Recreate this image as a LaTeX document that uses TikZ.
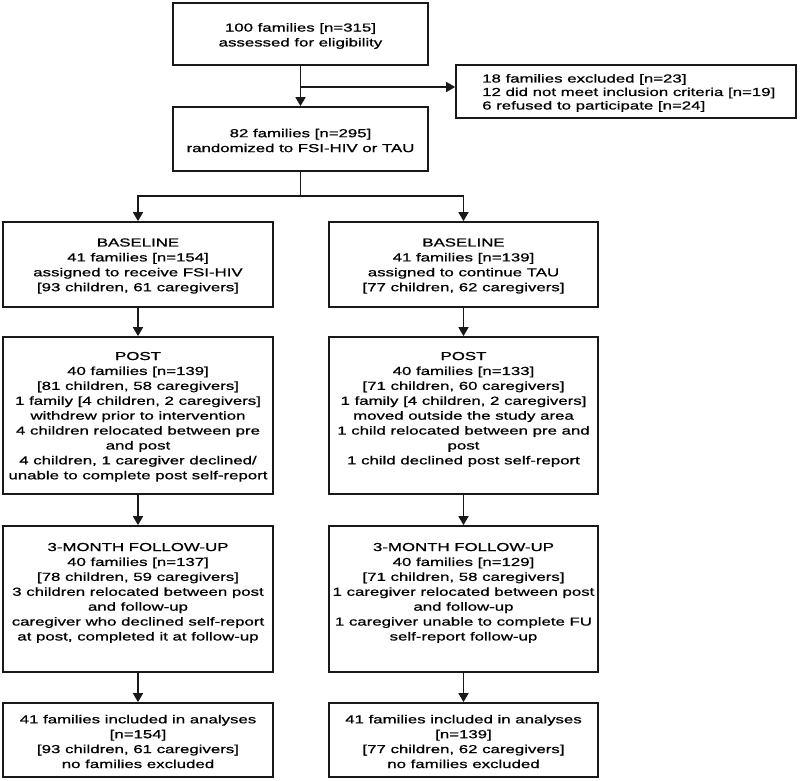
\documentclass[tikz,border=0pt]{standalone}
\usepackage{fontspec}
\setmainfont{Liberation Sans}[FakeStretch=1.45,FakeBold=0.9]
\usetikzlibrary{arrows.meta}
\begin{document}
\begin{tikzpicture}[x=1pt,y=-1pt,
  box/.style={draw=black!90, line width=1.7pt, inner sep=0pt},
  txt/.style={font=\fontsize{11.6}{14.9}\selectfont, align=center, inner sep=0pt},
  ltxt/.style={font=\fontsize{11.6}{13.5}\selectfont, align=left, inner sep=0pt},
  conn/.style={draw=black!90, line width=1.5pt},
  arr/.style={draw=black!90, line width=1.5pt, -{Triangle[length=9pt,width=10pt]}}]
\useasboundingbox (0,0) rectangle (800,781);

% boxes
\node[box, minimum width=255, minimum height=62] (top) at (300.5,34) {};
\node[box, minimum width=255, minimum height=64] (rand) at (300.5,139) {};
\node[box, minimum width=340, minimum height=53] (excl) at (626,91.5) {};
\node[box, minimum width=270, minimum height=85] (lbase) at (138,264.5) {};
\node[box, minimum width=269, minimum height=85] (rbase) at (463.5,264.5) {};
\node[box, minimum width=270, minimum height=157] (lpost) at (138,415.5) {};
\node[box, minimum width=269, minimum height=157] (rpost) at (463.5,415.5) {};
\node[box, minimum width=270, minimum height=146] (lfu) at (138,599) {};
\node[box, minimum width=269, minimum height=146] (rfu) at (463.5,599) {};
\node[box, minimum width=270, minimum height=74] (lfin) at (138,740) {};
\node[box, minimum width=269, minimum height=74] (rfin) at (463.5,740) {};

% texts
\node[txt] (toptxt) at (300.5,36) {100 families [n=315]\\assessed for eligibility};
\node[txt] (randtxt) at (300.5,140.5) {82 families [n=295]\\randomized to FSI-HIV or TAU};
\node[ltxt, anchor=west] (excltxt) at (482,93) {18 families excluded [n=23]\\12 did not meet inclusion criteria [n=19]\\6 refused to participate [n=24]};
\node[txt] (lbasetxt) at (138,266) {BASELINE\\41 families [n=154]\\assigned to receive FSI-HIV\\[0pt][93 children, 61 caregivers]};
\node[txt] (rbasetxt) at (463.5,266) {BASELINE\\41 families [n=139]\\assigned to continue TAU\\[0pt][77 children, 62 caregivers]};
\node[txt, anchor=north] (lposttxt) at ([yshift=-15.6pt]lpost.north) {POST\\40 families [n=139]\\[0pt][81 children, 58 caregivers]\\1 family [4 children, 2 caregivers]\\withdrew prior to intervention\\4 children relocated between pre\\and post\\4 children, 1 caregiver declined/\\unable to complete post self-report};
\node[txt, anchor=north] (rposttxt) at ([yshift=-15.6pt]rpost.north) {POST\\40 families [n=133]\\[0pt][71 children, 60 caregivers]\\1 family [4 children, 2 caregivers]\\moved outside the study area\\1 child relocated between pre and\\post\\1 child declined post self-report};
\node[txt, anchor=north] (lfutxt) at ([yshift=-17.6pt]lfu.north) {3-MONTH FOLLOW-UP\\40 families [n=137]\\[0pt][78 children, 59 caregivers]\\3 children relocated between post\\and follow-up\\caregiver who declined self-report\\at post, completed it at follow-up};
\node[txt, anchor=north] (rfutxt) at ([yshift=-17.6pt]rfu.north) {3-MONTH FOLLOW-UP\\40 families [n=129]\\[0pt][71 children, 58 caregivers]\\1 caregiver relocated between post\\and follow-up\\1 caregiver unable to complete FU\\self-report follow-up};
\node[txt] (lfintxt) at (138,741.5) {41 families included in analyses\\[0pt][n=154]\\[0pt][93 children, 61 caregivers]\\no families excluded};
\node[txt] (rfintxt) at (463.5,741.5) {41 families included in analyses\\[0pt][n=139]\\[0pt][77 children, 62 caregivers]\\no families excluded};

% connectors
\draw[arr] (top.south) -- (rand.north);
\coordinate (br) at (300.5,87);
\draw[arr] (br) -- (br -| excl.west);
\coordinate (split) at (300.5,196);
\draw[conn] (rand.south) -- (split);
\draw[arr] (split) -| (lbase.north);
\draw[arr] (split) -| (rbase.north);
\draw[arr] (lbase.south) -- (lpost.north);
\draw[arr] (rbase.south) -- (rpost.north);
\draw[arr] (lpost.south) -- (lfu.north);
\draw[arr] (rpost.south) -- (rfu.north);
\draw[arr] (lfu.south) -- (lfin.north);
\draw[arr] (rfu.south) -- (rfin.north);
\end{tikzpicture}
\end{document}
